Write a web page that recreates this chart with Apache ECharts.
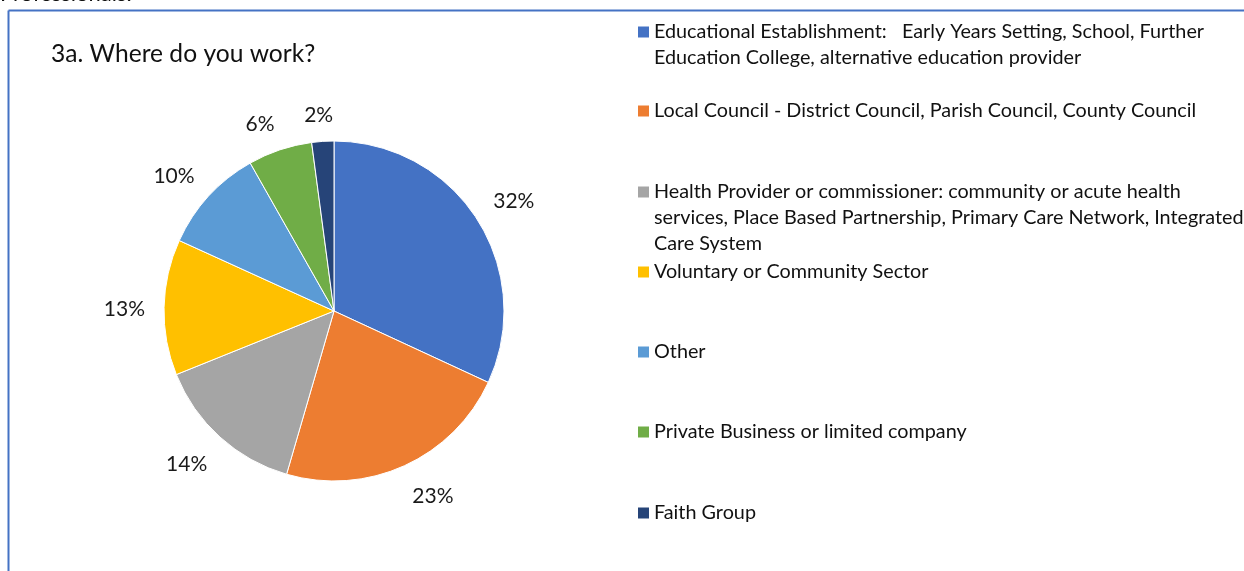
<!DOCTYPE html>
<html>
<head>
<meta charset="utf-8">
<script src="https://cdn.jsdelivr.net/npm/echarts@6/dist/echarts.min.js"></script>
<style>
html,body{margin:0;padding:0;background:#fff;}
#chart{width:1244px;height:571px;}
</style>
</head>
<body>
<div id="chart"></div>
<script>
const categories = [
  'Educational Establishment: Early Years Setting, School, Further Education College, alternative education provider',
  'Local Council - District Council, Parish Council, County Council',
  'Health Provider or commissioner: community or acute health services, Place Based Partnership, Primary Care Network, Integrated Care System',
  'Voluntary or Community Sector',
  'Other',
  'Private Business or limited company',
  'Faith Group'
];
const legendLines = [
  ['Educational Establishment:   Early Years Setting, School, Further', 'Education College, alternative education provider'],
  ['Local Council - District Council, Parish Council, County Council'],
  ['Health Provider or commissioner: community or acute health', 'services, Place Based Partnership, Primary Care Network, Integrated', 'Care System'],
  ['Voluntary or Community Sector'],
  ['Other'],
  ['Private Business or limited company'],
  ['Faith Group']
];
// percentage shares (labels show them rounded)
const values = [31.9, 22.6, 14.4, 12.9, 10.0, 6.1, 2.1];
const colors = ['#4472C4', '#ED7D31', '#A5A5A5', '#FFC000', '#5B9BD5', '#70AD47', '#264478'];
const titleText = '3a. Where do you work?';
const headingText = 'Professionals.';

const FONT = 'Lato';
const LH = 26;
const legendFirstLineY = [32, 111, 192, 272, 352, 432, 513];

const legends = categories.map((name, i) => {
  const n = legendLines[i].length;
  const blanks = new Array(n - 1).fill('');
  return {
    data: [name],
    left: 638,
    top: legendFirstLineY[i] - (2 * n - 1) * LH / 2,
    orient: 'vertical',
    padding: 0,
    itemWidth: 11,
    itemHeight: 11,
    itemGap: 0,
    icon: 'rect',
    selectedMode: false,
    itemStyle: { borderWidth: 0 },
    formatter: () => blanks.concat(legendLines[i]).join('\n'),
    textStyle: {
      fontFamily: FONT,
      fontSize: 19.8,
      color: '#111',
      lineHeight: LH
    }
  };
});

const chart = echarts.init(document.getElementById('chart'));
chart.setOption({
  animation: false,
  color: colors,
  title: {
    text: titleText,
    left: 51,
    top: 41,
    padding: 0,
    textStyle: { fontFamily: FONT, fontSize: 24.6, fontWeight: 'normal', color: '#111', lineHeight: 26 }
  },
  legend: legends,
  graphic: [
    { type: 'line', shape: { x1: 8.5, y1: 10.5, x2: 1244, y2: 10.5 }, style: { stroke: '#4472C4', lineWidth: 2 } },
    { type: 'line', shape: { x1: 8.5, y1: 10.5, x2: 8.5, y2: 571 }, style: { stroke: '#4472C4', lineWidth: 2 } },
    { type: 'text', left: 0, top: -17, style: { text: headingText, fontFamily: FONT, fontSize: 22, fill: '#111' } }
  ],
  series: [{
    type: 'pie',
    center: [334, 311],
    radius: 170,
    startAngle: 90,
    clockwise: true,
    avoidLabelOverlap: false,
    data: categories.map((c, i) => ({ name: c, value: values[i] })),
    itemStyle: { borderColor: '#fff', borderWidth: 1 },
    label: {
      show: true,
      position: 'outside',
      formatter: p => Math.round(p.percent) + '%',
      fontFamily: FONT,
      fontSize: 21,
      color: '#1a1a1a'
    },
    labelLine: { show: true, length: 19, length2: 0, lineStyle: { opacity: 0 } },
    labelLayout: function (p) {
      const pts = p.labelLinePoints;
      if (!pts || pts.length < 2) return {};
      const dx = pts[1][0] - pts[0][0], dy = pts[1][1] - pts[0][1];
      const L = Math.hypot(dx, dy) || 1;
      const ux = dx / L, uy = dy / L;
      const cl = v => Math.max(-1, Math.min(1, v * 3));
      const hw = p.labelRect.width / 2, hh = p.labelRect.height / 2;
      return {
        x: pts[1][0] + hw * cl(ux),
        y: pts[1][1] + hh * cl(uy) + 3,
        align: 'center',
        verticalAlign: 'middle'
      };
    },
    emphasis: { disabled: true }
  }]
});
</script>
</body>
</html>
